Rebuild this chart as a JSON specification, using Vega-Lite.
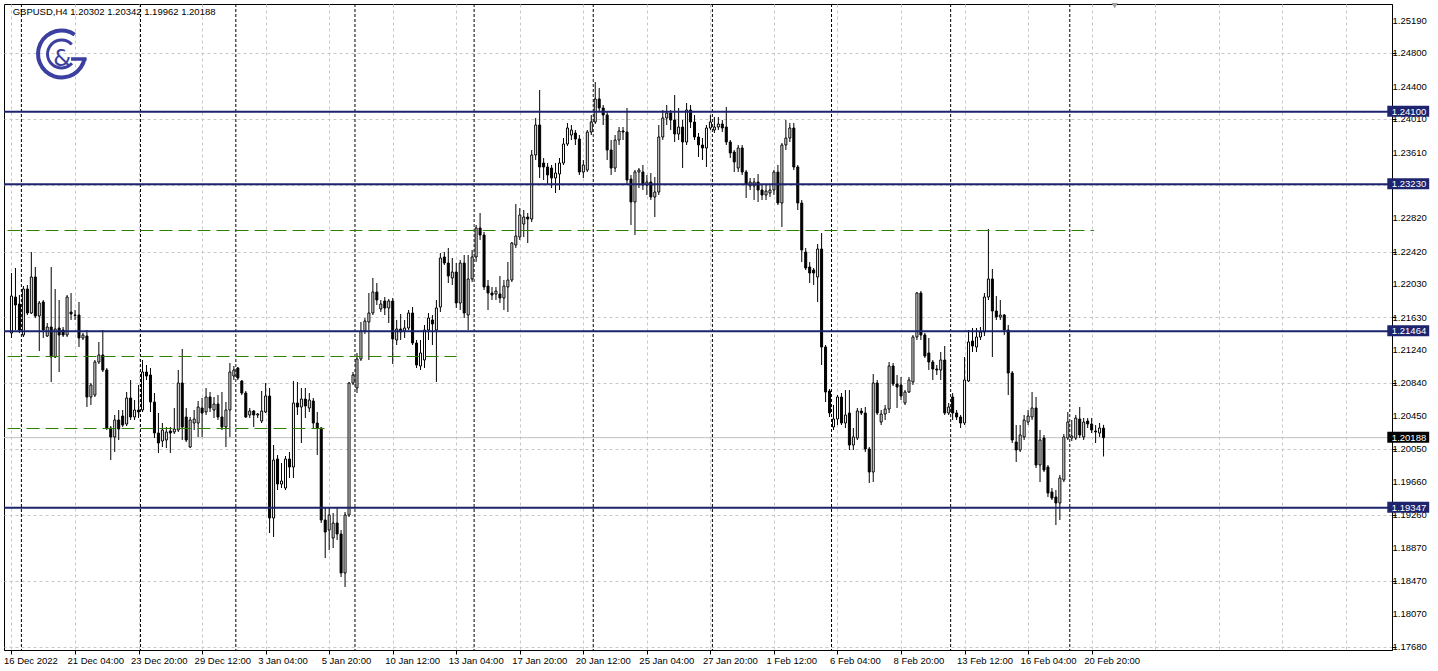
{
"$schema":"https://vega.github.io/schema/vega-lite/v6.json",
"width":1388,"height":646,
"autosize":{"type":"none"},
"padding":{"left":4,"top":4,"right":46,"bottom":21},
"background":"white",
"config":{"view":{"stroke":"black","strokeWidth":1},"font":"Liberation Sans","axis":{"labelOverlap":false}},
"datasets":{
"seps":[{"week_start":3},{"week_start":33},{"week_start":57},{"week_start":87},{"week_start":117},{"week_start":147},{"week_start":177},{"week_start":207},{"week_start":237},{"week_start":267}],
"levels":[{"price":1.241,"label":"1.24100","kind":"navy"},{"price":1.2323,"label":"1.23230","kind":"navy"},{"price":1.21464,"label":"1.21464","kind":"navy"},{"price":1.19347,"label":"1.19347","kind":"navy"},{"price":1.20188,"label":"1.20188","kind":"bid"}],
"greens":[{"price":1.22674,"start":-1,"end":272.6},{"price":1.21162,"start":-1,"end":112.1},{"price":1.20298,"start":-1,"end":79.6}],
"ticks":[{"v":1.2519},{"v":1.248},{"v":1.244},{"v":1.2401},{"v":1.2361},{"v":1.2322},{"v":1.2282},{"v":1.2242},{"v":1.2203},{"v":1.2163},{"v":1.2124},{"v":1.2084},{"v":1.2045},{"v":1.2005},{"v":1.1966},{"v":1.1926},{"v":1.1887},{"v":1.1847},{"v":1.1807},{"v":1.1768}],
"info":[{"text":"GBPUSD,H4  1.20302 1.20342 1.19962 1.20188"}],
"candles":[
{"i":0,"o":1.21444,"h":1.22164,"l":1.21384,"c":1.21888},
{"i":1,"o":1.21876,"h":1.22224,"l":1.2148,"c":1.2178},
{"i":2,"o":1.21792,"h":1.219,"l":1.21444,"c":1.2148},
{"i":3,"o":1.2142,"h":1.22008,"l":1.21396,"c":1.21972},
{"i":4,"o":1.21972,"h":1.2202,"l":1.2166,"c":1.21684},
{"i":5,"o":1.21684,"h":1.22416,"l":1.21672,"c":1.22116},
{"i":6,"o":1.22116,"h":1.22236,"l":1.21624,"c":1.21648},
{"i":7,"o":1.21648,"h":1.21828,"l":1.21228,"c":1.21804},
{"i":8,"o":1.21816,"h":1.2184,"l":1.21384,"c":1.2148},
{"i":9,"o":1.21408,"h":1.21564,"l":1.21396,"c":1.21516},
{"i":10,"o":1.21516,"h":1.22236,"l":1.20856,"c":1.21156},
{"i":11,"o":1.21156,"h":1.21972,"l":1.21144,"c":1.21492},
{"i":12,"o":1.21504,"h":1.2184,"l":1.20976,"c":1.2142},
{"i":13,"o":1.2148,"h":1.21516,"l":1.21396,"c":1.2142},
{"i":14,"o":1.2142,"h":1.219,"l":1.21396,"c":1.21876},
{"i":15,"o":1.21696,"h":1.21924,"l":1.216,"c":1.21672},
{"i":16,"o":1.2166,"h":1.2172,"l":1.216,"c":1.21655},
{"i":17,"o":1.2166,"h":1.21816,"l":1.21276,"c":1.21384},
{"i":18,"o":1.21384,"h":1.21444,"l":1.2136,"c":1.2142},
{"i":19,"o":1.21408,"h":1.2148,"l":1.20556,"c":1.20676},
{"i":20,"o":1.20676,"h":1.20844,"l":1.2058,"c":1.2082},
{"i":21,"o":1.207,"h":1.2112,"l":1.20676,"c":1.21096},
{"i":22,"o":1.21096,"h":1.21336,"l":1.21072,"c":1.2118},
{"i":23,"o":1.2118,"h":1.2148,"l":1.20976,"c":1.21},
{"i":24,"o":1.21,"h":1.21024,"l":1.2028,"c":1.20304},
{"i":25,"o":1.20304,"h":1.20328,"l":1.1992,"c":1.20196},
{"i":26,"o":1.20196,"h":1.2046,"l":1.20016,"c":1.204},
{"i":27,"o":1.204,"h":1.2052,"l":1.2016,"c":1.20292},
{"i":28,"o":1.20448,"h":1.2052,"l":1.20316,"c":1.2034},
{"i":29,"o":1.20352,"h":1.20736,"l":1.20328,"c":1.20664},
{"i":30,"o":1.20664,"h":1.2088,"l":1.204,"c":1.20436},
{"i":31,"o":1.20436,"h":1.2064,"l":1.204,"c":1.2052},
{"i":32,"o":1.2052,"h":1.2082,"l":1.20424,"c":1.20496},
{"i":33,"o":1.2052,"h":1.2112,"l":1.20496,"c":1.20976},
{"i":34,"o":1.20976,"h":1.2106,"l":1.2088,"c":1.20928},
{"i":35,"o":1.2094,"h":1.21024,"l":1.20496,"c":1.20616},
{"i":36,"o":1.20616,"h":1.20724,"l":1.20184,"c":1.20244},
{"i":37,"o":1.20244,"h":1.20484,"l":1.20004,"c":1.20124},
{"i":38,"o":1.20148,"h":1.20364,"l":1.20076,"c":1.2028},
{"i":39,"o":1.2016,"h":1.20316,"l":1.20064,"c":1.20256},
{"i":40,"o":1.20268,"h":1.20316,"l":1.20004,"c":1.20244},
{"i":41,"o":1.20256,"h":1.20544,"l":1.20232,"c":1.20292},
{"i":42,"o":1.2028,"h":1.21,"l":1.20256,"c":1.20844},
{"i":43,"o":1.20844,"h":1.21252,"l":1.2016,"c":1.20316},
{"i":44,"o":1.20436,"h":1.20544,"l":1.20136,"c":1.2016},
{"i":45,"o":1.20076,"h":1.20436,"l":1.20064,"c":1.204},
{"i":46,"o":1.20364,"h":1.2052,"l":1.2028,"c":1.20412},
{"i":47,"o":1.20364,"h":1.20628,"l":1.20196,"c":1.20556},
{"i":48,"o":1.20544,"h":1.20664,"l":1.20196,"c":1.20484},
{"i":49,"o":1.20496,"h":1.20784,"l":1.2046,"c":1.20676},
{"i":50,"o":1.20676,"h":1.20736,"l":1.20496,"c":1.20544},
{"i":51,"o":1.2052,"h":1.20676,"l":1.20424,"c":1.20592},
{"i":52,"o":1.20592,"h":1.207,"l":1.204,"c":1.20436},
{"i":53,"o":1.20436,"h":1.20736,"l":1.2028,"c":1.20316},
{"i":54,"o":1.20316,"h":1.20616,"l":1.20076,"c":1.2052},
{"i":55,"o":1.2052,"h":1.21084,"l":1.20196,"c":1.20976},
{"i":56,"o":1.20928,"h":1.21048,"l":1.2088,"c":1.21},
{"i":57,"o":1.21024,"h":1.21036,"l":1.2088,"c":1.20904},
{"i":58,"o":1.20868,"h":1.2088,"l":1.207,"c":1.20724},
{"i":59,"o":1.20724,"h":1.20748,"l":1.20424,"c":1.20436},
{"i":60,"o":1.2046,"h":1.20544,"l":1.20424,"c":1.20508},
{"i":61,"o":1.20508,"h":1.2052,"l":1.20316,"c":1.2046},
{"i":62,"o":1.2046,"h":1.20484,"l":1.20424,"c":1.20472},
{"i":63,"o":1.20388,"h":1.20748,"l":1.20364,"c":1.20508},
{"i":64,"o":1.20496,"h":1.20844,"l":1.20484,"c":1.20688},
{"i":65,"o":1.20688,"h":1.20784,"l":1.19044,"c":1.19224},
{"i":66,"o":1.19224,"h":1.201,"l":1.18996,"c":1.1992},
{"i":67,"o":1.19932,"h":1.1998,"l":1.1956,"c":1.19632},
{"i":68,"o":1.19632,"h":1.19884,"l":1.19584,"c":1.19668},
{"i":69,"o":1.19584,"h":1.19968,"l":1.1956,"c":1.19932},
{"i":70,"o":1.19932,"h":1.20016,"l":1.19704,"c":1.19836},
{"i":71,"o":1.19836,"h":1.20868,"l":1.19704,"c":1.20604},
{"i":72,"o":1.20604,"h":1.20856,"l":1.2046,"c":1.20556},
{"i":73,"o":1.20556,"h":1.20784,"l":1.20124,"c":1.20652},
{"i":74,"o":1.20652,"h":1.20784,"l":1.20424,"c":1.20568},
{"i":75,"o":1.20544,"h":1.20724,"l":1.20496,"c":1.2064},
{"i":76,"o":1.20628,"h":1.20664,"l":1.20304,"c":1.20364},
{"i":77,"o":1.20364,"h":1.20496,"l":1.1998,"c":1.20304},
{"i":78,"o":1.20304,"h":1.20316,"l":1.19164,"c":1.192},
{"i":79,"o":1.192,"h":1.19344,"l":1.18744,"c":1.19056},
{"i":80,"o":1.1908,"h":1.19344,"l":1.1884,"c":1.1926},
{"i":81,"o":1.18984,"h":1.19284,"l":1.18864,"c":1.19164},
{"i":82,"o":1.19164,"h":1.19344,"l":1.1896,"c":1.19032},
{"i":83,"o":1.19032,"h":1.1908,"l":1.18516,"c":1.18564},
{"i":84,"o":1.18564,"h":1.19296,"l":1.18396,"c":1.1926},
{"i":85,"o":1.1926,"h":1.20856,"l":1.19236,"c":1.20844},
{"i":86,"o":1.20844,"h":1.20976,"l":1.2082,"c":1.2094},
{"i":87,"o":1.20784,"h":1.21204,"l":1.20724,"c":1.21132},
{"i":88,"o":1.21132,"h":1.21576,"l":1.21108,"c":1.21468},
{"i":89,"o":1.21468,"h":1.21624,"l":1.21432,"c":1.21588},
{"i":90,"o":1.21576,"h":1.21924,"l":1.2112,"c":1.21684},
{"i":91,"o":1.21684,"h":1.22104,"l":1.2166,"c":1.21936},
{"i":92,"o":1.21936,"h":1.22044,"l":1.2178,"c":1.2184},
{"i":93,"o":1.21732,"h":1.2184,"l":1.21696,"c":1.21792},
{"i":94,"o":1.21828,"h":1.21876,"l":1.2166,"c":1.21744},
{"i":95,"o":1.21744,"h":1.21852,"l":1.21564,"c":1.21828},
{"i":96,"o":1.21828,"h":1.21864,"l":1.21072,"c":1.21372},
{"i":97,"o":1.2136,"h":1.216,"l":1.213,"c":1.21492},
{"i":98,"o":1.21492,"h":1.21672,"l":1.2136,"c":1.21456},
{"i":99,"o":1.21468,"h":1.216,"l":1.21384,"c":1.21504},
{"i":100,"o":1.21504,"h":1.2172,"l":1.2148,"c":1.21684},
{"i":101,"o":1.21684,"h":1.21756,"l":1.213,"c":1.21324},
{"i":102,"o":1.21324,"h":1.2136,"l":1.21024,"c":1.2106},
{"i":103,"o":1.21048,"h":1.2136,"l":1.21,"c":1.21204},
{"i":104,"o":1.2112,"h":1.2154,"l":1.21024,"c":1.2148},
{"i":105,"o":1.2148,"h":1.21684,"l":1.2136,"c":1.21624},
{"i":106,"o":1.216,"h":1.2166,"l":1.213,"c":1.21552},
{"i":107,"o":1.2148,"h":1.2184,"l":1.20856,"c":1.21744},
{"i":108,"o":1.21756,"h":1.22404,"l":1.21696,"c":1.22344},
{"i":109,"o":1.22356,"h":1.22416,"l":1.2226,"c":1.22284},
{"i":110,"o":1.22284,"h":1.22464,"l":1.22044,"c":1.22128},
{"i":111,"o":1.22104,"h":1.22344,"l":1.2202,"c":1.22176},
{"i":112,"o":1.22176,"h":1.22284,"l":1.21744,"c":1.21804},
{"i":113,"o":1.21804,"h":1.2232,"l":1.2172,"c":1.22284},
{"i":114,"o":1.22284,"h":1.2238,"l":1.21624,"c":1.21684},
{"i":115,"o":1.2166,"h":1.2238,"l":1.2148,"c":1.22092},
{"i":116,"o":1.22092,"h":1.2244,"l":1.22056,"c":1.22356},
{"i":117,"o":1.22356,"h":1.2274,"l":1.22296,"c":1.22704},
{"i":118,"o":1.22704,"h":1.22884,"l":1.2256,"c":1.2262},
{"i":119,"o":1.2262,"h":1.22656,"l":1.2196,"c":1.21996},
{"i":120,"o":1.22008,"h":1.2208,"l":1.2172,"c":1.21924},
{"i":121,"o":1.21924,"h":1.21996,"l":1.2184,"c":1.219},
{"i":122,"o":1.21912,"h":1.21996,"l":1.2184,"c":1.21948},
{"i":123,"o":1.21912,"h":1.22128,"l":1.21804,"c":1.21864},
{"i":124,"o":1.21864,"h":1.2208,"l":1.2172,"c":1.22008},
{"i":125,"o":1.21996,"h":1.22296,"l":1.21696,"c":1.2208},
{"i":126,"o":1.2208,"h":1.22536,"l":1.22056,"c":1.22524},
{"i":127,"o":1.225,"h":1.22992,"l":1.22464,"c":1.22608},
{"i":128,"o":1.22596,"h":1.22944,"l":1.2256,"c":1.2286},
{"i":129,"o":1.22752,"h":1.2292,"l":1.22596,"c":1.22836},
{"i":130,"o":1.22836,"h":1.22884,"l":1.22524,"c":1.22812},
{"i":131,"o":1.22812,"h":1.2364,"l":1.22776,"c":1.2358},
{"i":132,"o":1.2358,"h":1.24024,"l":1.2352,"c":1.2394},
{"i":133,"o":1.2394,"h":1.2436,"l":1.23304,"c":1.23436},
{"i":134,"o":1.23484,"h":1.23544,"l":1.2328,"c":1.23436},
{"i":135,"o":1.23436,"h":1.23484,"l":1.2322,"c":1.2334},
{"i":136,"o":1.23424,"h":1.2346,"l":1.23184,"c":1.23304},
{"i":137,"o":1.23304,"h":1.23484,"l":1.23124,"c":1.23364},
{"i":138,"o":1.23352,"h":1.23544,"l":1.2316,"c":1.23484},
{"i":139,"o":1.23484,"h":1.23784,"l":1.2346,"c":1.23712},
{"i":140,"o":1.23712,"h":1.23964,"l":1.23688,"c":1.23904},
{"i":141,"o":1.2382,"h":1.2394,"l":1.2376,"c":1.2388},
{"i":142,"o":1.23844,"h":1.2388,"l":1.237,"c":1.23772},
{"i":143,"o":1.23772,"h":1.2382,"l":1.2334,"c":1.23376},
{"i":144,"o":1.23376,"h":1.2352,"l":1.23304,"c":1.2346},
{"i":145,"o":1.234,"h":1.2388,"l":1.23376,"c":1.23856},
{"i":146,"o":1.23856,"h":1.2406,"l":1.2382,"c":1.23976},
{"i":147,"o":1.23976,"h":1.24456,"l":1.23952,"c":1.24252},
{"i":148,"o":1.24252,"h":1.24384,"l":1.24096,"c":1.24144},
{"i":149,"o":1.24144,"h":1.2418,"l":1.2394,"c":1.2406},
{"i":150,"o":1.2406,"h":1.24096,"l":1.2352,"c":1.2364},
{"i":151,"o":1.2364,"h":1.2376,"l":1.2334,"c":1.23424},
{"i":152,"o":1.23424,"h":1.2382,"l":1.23376,"c":1.2376},
{"i":153,"o":1.2376,"h":1.23916,"l":1.237,"c":1.23868},
{"i":154,"o":1.23868,"h":1.23916,"l":1.2376,"c":1.23856},
{"i":155,"o":1.23856,"h":1.24144,"l":1.2322,"c":1.2328},
{"i":156,"o":1.23292,"h":1.2334,"l":1.2274,"c":1.23016},
{"i":157,"o":1.23016,"h":1.234,"l":1.2262,"c":1.23376},
{"i":158,"o":1.23376,"h":1.23424,"l":1.23184,"c":1.234},
{"i":159,"o":1.23376,"h":1.2346,"l":1.2316,"c":1.2322},
{"i":160,"o":1.2322,"h":1.2334,"l":1.231,"c":1.23256},
{"i":161,"o":1.23256,"h":1.23364,"l":1.2304,"c":1.23076},
{"i":162,"o":1.23076,"h":1.23316,"l":1.22836,"c":1.23136},
{"i":163,"o":1.23136,"h":1.2394,"l":1.231,"c":1.23796},
{"i":164,"o":1.23796,"h":1.2412,"l":1.2376,"c":1.24024},
{"i":165,"o":1.24024,"h":1.2418,"l":1.2394,"c":1.24084},
{"i":166,"o":1.24084,"h":1.2412,"l":1.2388,"c":1.24},
{"i":167,"o":1.24,"h":1.243,"l":1.23736,"c":1.23832},
{"i":168,"o":1.23832,"h":1.24144,"l":1.2376,"c":1.23916},
{"i":169,"o":1.23916,"h":1.24,"l":1.23424,"c":1.23736},
{"i":170,"o":1.23736,"h":1.24204,"l":1.237,"c":1.2412},
{"i":171,"o":1.2412,"h":1.2418,"l":1.23904,"c":1.23976},
{"i":172,"o":1.23976,"h":1.2406,"l":1.2376,"c":1.23796},
{"i":173,"o":1.23796,"h":1.23844,"l":1.23556,"c":1.237},
{"i":174,"o":1.237,"h":1.23784,"l":1.2352,"c":1.23664},
{"i":175,"o":1.23664,"h":1.2394,"l":1.23436,"c":1.23904},
{"i":176,"o":1.23904,"h":1.2406,"l":1.2388,"c":1.23976},
{"i":177,"o":1.2388,"h":1.24036,"l":1.23844,"c":1.23916},
{"i":178,"o":1.23916,"h":1.24036,"l":1.2388,"c":1.23952},
{"i":179,"o":1.23952,"h":1.24,"l":1.23856,"c":1.23904},
{"i":180,"o":1.23916,"h":1.24156,"l":1.237,"c":1.23736},
{"i":181,"o":1.23736,"h":1.2376,"l":1.23544,"c":1.23604},
{"i":182,"o":1.23616,"h":1.2364,"l":1.23376,"c":1.23496},
{"i":183,"o":1.23424,"h":1.237,"l":1.23376,"c":1.23664},
{"i":184,"o":1.23664,"h":1.237,"l":1.2334,"c":1.23376},
{"i":185,"o":1.23376,"h":1.234,"l":1.23064,"c":1.23232},
{"i":186,"o":1.23208,"h":1.23304,"l":1.2316,"c":1.23256},
{"i":187,"o":1.23208,"h":1.23304,"l":1.2304,"c":1.23256},
{"i":188,"o":1.23256,"h":1.23352,"l":1.23016,"c":1.2316},
{"i":189,"o":1.2316,"h":1.2322,"l":1.2304,"c":1.231},
{"i":190,"o":1.231,"h":1.2322,"l":1.2304,"c":1.23148},
{"i":191,"o":1.23124,"h":1.23232,"l":1.23076,"c":1.2316},
{"i":192,"o":1.2316,"h":1.234,"l":1.231,"c":1.23376},
{"i":193,"o":1.23376,"h":1.2346,"l":1.2298,"c":1.23004},
{"i":194,"o":1.23004,"h":1.23724,"l":1.22716,"c":1.237},
{"i":195,"o":1.237,"h":1.24,"l":1.2364,"c":1.23784},
{"i":196,"o":1.23784,"h":1.23964,"l":1.23736,"c":1.23904},
{"i":197,"o":1.23904,"h":1.23964,"l":1.234,"c":1.23436},
{"i":198,"o":1.23436,"h":1.2346,"l":1.2292,"c":1.23004},
{"i":199,"o":1.23004,"h":1.2304,"l":1.22296,"c":1.2244},
{"i":200,"o":1.22416,"h":1.22464,"l":1.222,"c":1.22224},
{"i":201,"o":1.22236,"h":1.22296,"l":1.22044,"c":1.22164},
{"i":202,"o":1.222,"h":1.22224,"l":1.2202,"c":1.22164},
{"i":203,"o":1.22116,"h":1.22512,"l":1.21816,"c":1.22452},
{"i":204,"o":1.22452,"h":1.22644,"l":1.2106,"c":1.21276},
{"i":205,"o":1.21276,"h":1.213,"l":1.20616,"c":1.20736},
{"i":206,"o":1.20748,"h":1.20772,"l":1.20436,"c":1.20484},
{"i":207,"o":1.20316,"h":1.2058,"l":1.2028,"c":1.20412},
{"i":208,"o":1.20412,"h":1.207,"l":1.2034,"c":1.20676},
{"i":209,"o":1.20676,"h":1.20724,"l":1.2034,"c":1.20364},
{"i":210,"o":1.20364,"h":1.2076,"l":1.20304,"c":1.2046},
{"i":211,"o":1.20484,"h":1.2076,"l":1.2004,"c":1.201},
{"i":212,"o":1.201,"h":1.20304,"l":1.2004,"c":1.20196},
{"i":213,"o":1.20184,"h":1.20544,"l":1.2016,"c":1.20508},
{"i":214,"o":1.20508,"h":1.20544,"l":1.2046,"c":1.20484},
{"i":215,"o":1.20484,"h":1.20556,"l":1.20016,"c":1.20052},
{"i":216,"o":1.20052,"h":1.20076,"l":1.19644,"c":1.19776},
{"i":217,"o":1.19776,"h":1.20952,"l":1.19656,"c":1.20844},
{"i":218,"o":1.20844,"h":1.2088,"l":1.2046,"c":1.20484},
{"i":219,"o":1.20376,"h":1.2052,"l":1.2034,"c":1.20472},
{"i":220,"o":1.20472,"h":1.2058,"l":1.204,"c":1.20532},
{"i":221,"o":1.20532,"h":1.21096,"l":1.20484,"c":1.21048},
{"i":222,"o":1.21048,"h":1.21084,"l":1.20808,"c":1.20832},
{"i":223,"o":1.20832,"h":1.2094,"l":1.20544,"c":1.20796},
{"i":224,"o":1.2082,"h":1.20916,"l":1.2064,"c":1.20688},
{"i":225,"o":1.20604,"h":1.2076,"l":1.2058,"c":1.20736},
{"i":226,"o":1.20736,"h":1.20916,"l":1.20724,"c":1.2088},
{"i":227,"o":1.20856,"h":1.2142,"l":1.2082,"c":1.21396},
{"i":228,"o":1.21396,"h":1.21936,"l":1.2136,"c":1.21924},
{"i":229,"o":1.21924,"h":1.21948,"l":1.2136,"c":1.2142},
{"i":230,"o":1.2142,"h":1.21444,"l":1.21144,"c":1.21168},
{"i":231,"o":1.21204,"h":1.21384,"l":1.21,"c":1.21096},
{"i":232,"o":1.21096,"h":1.2112,"l":1.2088,"c":1.21012},
{"i":233,"o":1.21012,"h":1.2106,"l":1.2094,"c":1.21},
{"i":234,"o":1.21,"h":1.21216,"l":1.2088,"c":1.2112},
{"i":235,"o":1.2112,"h":1.21288,"l":1.2046,"c":1.20484},
{"i":236,"o":1.20484,"h":1.20604,"l":1.2046,"c":1.20556},
{"i":237,"o":1.20676,"h":1.20724,"l":1.204,"c":1.20484},
{"i":238,"o":1.20484,"h":1.2052,"l":1.204,"c":1.20436},
{"i":239,"o":1.20436,"h":1.2046,"l":1.20304,"c":1.20364},
{"i":240,"o":1.20364,"h":1.21156,"l":1.2034,"c":1.2088},
{"i":241,"o":1.20868,"h":1.2148,"l":1.20856,"c":1.21336},
{"i":242,"o":1.21348,"h":1.21504,"l":1.21216,"c":1.21288},
{"i":243,"o":1.21276,"h":1.21504,"l":1.21216,"c":1.21396},
{"i":244,"o":1.21396,"h":1.21516,"l":1.2136,"c":1.21456},
{"i":245,"o":1.21456,"h":1.21924,"l":1.21408,"c":1.21876},
{"i":246,"o":1.21876,"h":1.22692,"l":1.2184,"c":1.22092},
{"i":247,"o":1.22092,"h":1.22212,"l":1.21156,"c":1.21708},
{"i":248,"o":1.21708,"h":1.21888,"l":1.216,"c":1.21636},
{"i":249,"o":1.21636,"h":1.2184,"l":1.216,"c":1.2166},
{"i":250,"o":1.2166,"h":1.21672,"l":1.2142,"c":1.2148},
{"i":251,"o":1.2148,"h":1.2154,"l":1.207,"c":1.20964},
{"i":252,"o":1.20964,"h":1.20988,"l":1.20124,"c":1.2016},
{"i":253,"o":1.20136,"h":1.2034,"l":1.19896,"c":1.2004},
{"i":254,"o":1.2004,"h":1.2034,"l":1.20016,"c":1.2022},
{"i":255,"o":1.20196,"h":1.2046,"l":1.2016,"c":1.204},
{"i":256,"o":1.20376,"h":1.2052,"l":1.2034,"c":1.20448},
{"i":257,"o":1.20436,"h":1.20736,"l":1.204,"c":1.20544},
{"i":258,"o":1.20544,"h":1.20676,"l":1.19824,"c":1.1986},
{"i":259,"o":1.1986,"h":1.2028,"l":1.19656,"c":1.2016},
{"i":260,"o":1.20184,"h":1.2022,"l":1.19776,"c":1.198},
{"i":261,"o":1.19836,"h":1.1986,"l":1.19476,"c":1.19524},
{"i":262,"o":1.19536,"h":1.19584,"l":1.1944,"c":1.19464},
{"i":263,"o":1.19476,"h":1.1956,"l":1.1914,"c":1.19404},
{"i":264,"o":1.19404,"h":1.1974,"l":1.192,"c":1.19704},
{"i":265,"o":1.1968,"h":1.20232,"l":1.19656,"c":1.20196},
{"i":266,"o":1.20184,"h":1.20496,"l":1.2016,"c":1.20376},
{"i":267,"o":1.20184,"h":1.204,"l":1.20148,"c":1.20208},
{"i":268,"o":1.20184,"h":1.2046,"l":1.2016,"c":1.20424},
{"i":269,"o":1.20412,"h":1.20556,"l":1.20184,"c":1.2022},
{"i":270,"o":1.20196,"h":1.20424,"l":1.2016,"c":1.20376},
{"i":271,"o":1.20388,"h":1.20424,"l":1.20304,"c":1.20352},
{"i":272,"o":1.20352,"h":1.20424,"l":1.20244,"c":1.2028},
{"i":273,"o":1.20268,"h":1.2034,"l":1.20124,"c":1.20256},
{"i":274,"o":1.20244,"h":1.20364,"l":1.20196,"c":1.20304},
{"i":275,"o":1.20302,"h":1.20342,"l":1.19962,"c":1.20188}
]},
"layer":[
{"data":{"name":"seps"},
 "mark":{"type":"rule","color":"black","strokeWidth":1,"strokeDash":[3,2],"xOffset":-2},
 "encoding":{"x":{"field":"week_start","type":"quantitative",
   "scale":{"domain":[-0.625,346.375],"nice":false,"zero":false},
   "axis":{"title":null,"orient":"bottom","values":[0,8,16,24,32,40,48,56,64,72,80,88,96,104,112,120,128,136,144,152,160,168,176,184,192,200,208,216,224,232,240,248,256,264,272,280,288,296,304,312,320,328,336,344],
     "grid":true,"gridColor":"#c8c8c8","gridDash":[3,3],"gridWidth":1,
     "domainColor":"black","tickColor":"black","tickSize":4,
     "tickOpacity":{"condition":{"test":"datum.value % 16 == 0 && datum.value <= 272","value":1},"value":0},
     "labelExpr":"datum.value % 16 == 0 && datum.value <= 272 ? ['16 Dec 2022','21 Dec 04:00','23 Dec 20:00','29 Dec 12:00','3 Jan 04:00','5 Jan 20:00','10 Jan 12:00','13 Jan 04:00','17 Jan 20:00','20 Jan 12:00','25 Jan 04:00','27 Jan 20:00','1 Feb 12:00','6 Feb 04:00','8 Feb 20:00','13 Feb 12:00','16 Feb 04:00','20 Feb 20:00'][datum.value / 16] : ''",
     "labelAlign":"left","labelBaseline":"top","labelPadding":1,"labelOffset":-8,"labelFontSize":9.5,"labelFont":"Liberation Sans","labelColor":"black","labelOverlap":false,"labelFlush":false,"labelBound":false}}}},
{"data":{"name":"levels"},
 "transform":[{"filter":"datum.kind == 'bid'"}],
 "mark":{"type":"rule","color":"#c0c0c0","strokeWidth":1},
 "encoding":{"y":{"field":"price","type":"quantitative",
   "scale":{"domain":[1.1764,1.25392],"nice":false,"zero":false},
   "axis":{"title":null,"orient":"right","values":[1.2519,1.248,1.244,1.2401,1.2361,1.2322,1.2282,1.2242,1.2203,1.2163,1.2124,1.2084,1.2045,1.2005,1.1966,1.1926,1.1887,1.1847,1.1807,1.1768],
     "labels":false,"grid":true,"gridColor":"#c8c8c8","gridDash":[3,3],"gridWidth":1,
     "domainColor":"black","tickColor":"black","tickSize":4}}}},
{"data":{"name":"candles"},
 "mark":{"type":"rule","color":"black","strokeWidth":1},
 "encoding":{"x":{"field":"i","type":"quantitative"},"y":{"field":"l","type":"quantitative"},"y2":{"field":"h"}}},
{"data":{"name":"candles"},
 "mark":{"type":"bar","orient":"vertical","size":2,"stroke":"black","strokeWidth":1},
 "encoding":{"x":{"field":"i","type":"quantitative"},"y":{"field":"o","type":"quantitative"},"y2":{"field":"c"},
   "fill":{"condition":{"test":"datum.c >= datum.o","value":"white"},"value":"black"}}},
{"data":{"name":"greens"},
 "mark":{"type":"rule","color":"#2f8000","strokeWidth":1,"strokeDash":[13,6],"clip":true},
 "encoding":{"x":{"field":"start","type":"quantitative"},"x2":{"field":"end"},"y":{"field":"price","type":"quantitative"}}},
{"data":{"name":"levels"},
 "transform":[{"filter":"datum.kind == 'navy'"}],
 "mark":{"type":"rule","color":"#1e236e","strokeWidth":2},
 "encoding":{"y":{"field":"price","type":"quantitative"}}},
{"data":{"name":"ticks"},
 "mark":{"type":"text","align":"left","baseline":"middle","color":"black","fontSize":9.5,"font":"Liberation Sans"},
 "encoding":{"x":{"datum":347.75,"type":"quantitative"},"y":{"field":"v","type":"quantitative"},"text":{"field":"v","type":"quantitative","format":".5f"}}},
{"data":{"name":"levels"},
 "mark":{"type":"rect","yOffset":-6,"y2Offset":5},
 "encoding":{"x":{"datum":346.45,"type":"quantitative"},"x2":{"datum":357.0},
   "y":{"field":"price","type":"quantitative"},"y2":{"field":"price"},
   "fill":{"condition":{"test":"datum.kind == 'bid'","value":"black"},"value":"#1e236e"}}},
{"data":{"name":"levels"},
 "mark":{"type":"text","align":"left","baseline":"middle","color":"white","fontSize":9.5,"font":"Liberation Sans"},
 "encoding":{"x":{"datum":347.6,"type":"quantitative"},"y":{"field":"price","type":"quantitative"},"text":{"field":"label"}}},
{"data":{"name":"info"},
 "mark":{"type":"text","align":"left","baseline":"middle","color":"black","fontSize":9.5,"font":"Liberation Sans"},
 "encoding":{"x":{"datum":0.3,"type":"quantitative"},"y":{"datum":1.25296,"type":"quantitative"},"text":{"field":"text"}}},
{"data":{"values":[{}]},
 "mark":{"type":"arc","theta":1.75,"theta2":6.88,"radius":21.5,"radius2":25.5,"color":"#3b3f9f"},
 "encoding":{"x":{"datum":12.6,"type":"quantitative"},"y":{"datum":1.24792,"type":"quantitative"}}},
{"data":{"values":[{}]},
 "mark":{"type":"arc","theta":2.3,"theta2":7.1,"radius":12.5,"radius2":15.5,"color":"#3b3f9f"},
 "encoding":{"x":{"datum":12.6,"type":"quantitative"},"y":{"datum":1.24792,"type":"quantitative"}}},
{"data":{"values":[{}]},
 "mark":{"type":"rule","color":"#3b3f9f","strokeWidth":3.5},
 "encoding":{"x":{"datum":15.0,"type":"quantitative"},"x2":{"datum":18.9},"y":{"datum":1.24732,"type":"quantitative"}}},
{"data":{"values":[{}]},
 "mark":{"type":"text","text":"&","fontSize":23,"fontWeight":"normal","font":"DejaVu Sans","color":"#3b3f9f","align":"center","baseline":"middle"},
 "encoding":{"x":{"datum":12.8,"type":"quantitative"},"y":{"datum":1.24732,"type":"quantitative"}}},
{"data":{"values":[{}]},
 "mark":{"type":"point","shape":"triangle-down","filled":true,"size":40,"color":"#a0a0a0","opacity":1},
 "encoding":{"x":{"datum":277.8,"type":"quantitative"},"y":{"datum":1.2537,"type":"quantitative"}}}
]
}
